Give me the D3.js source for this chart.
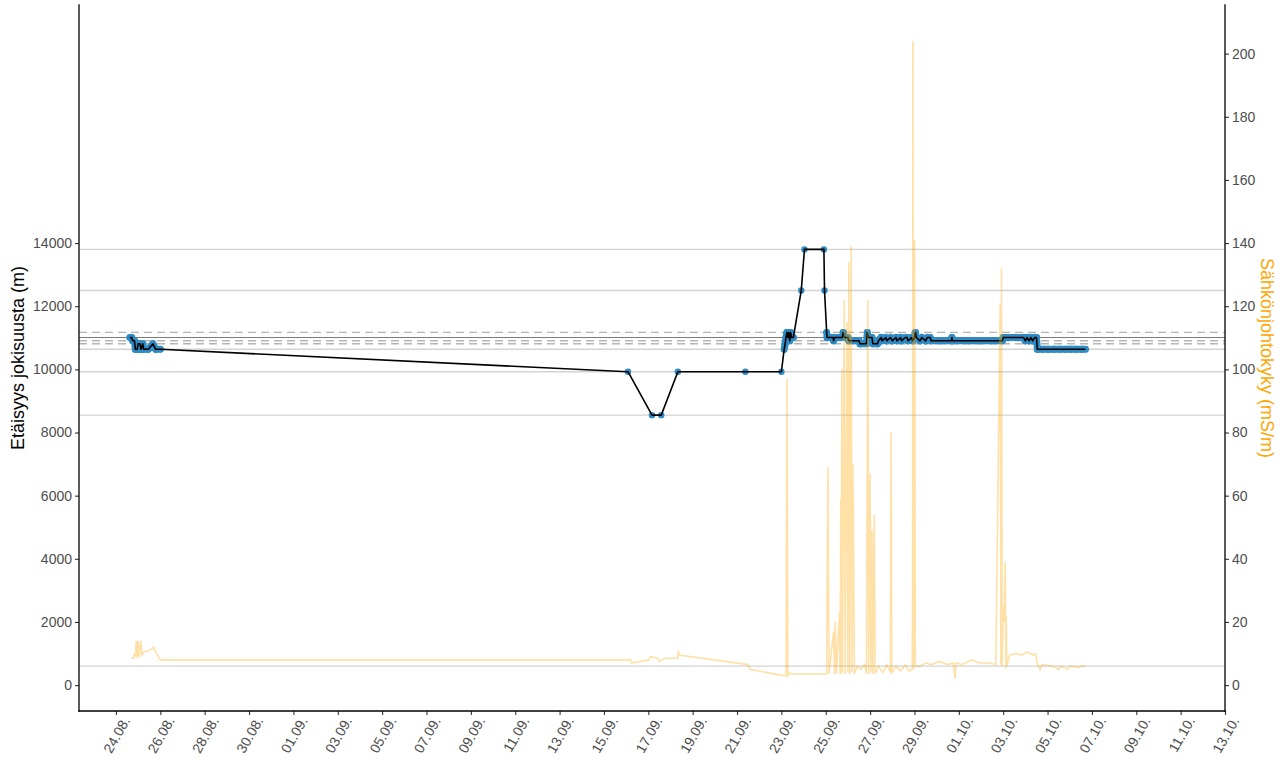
<!DOCTYPE html>
<html>
<head>
<meta charset="utf-8">
<script src="https://cdn.jsdelivr.net/npm/d3@7"></script>
<style>
  body { margin: 0; background: #fff; }
  svg text { font-family: "Liberation Sans", Arial, sans-serif; }
</style>
</head>
<body>
<svg id="chart" width="1287" height="764"></svg>
<script>
// distance from river mouth (m), one reading per position fix
const distance = [
  ["08-24 15:00", 11010], ["08-24 17:00", 11010], ["08-24 18:00", 10905], ["08-24 20:00", 10905],
  ["08-24 21:00", 10635], ["08-24 23:00", 10635], ["08-25 00:00", 10810], ["08-25 02:00", 10810],
  ["08-25 03:00", 10635], ["08-25 05:00", 10810], ["08-25 06:00", 10635], ["08-25 11:00", 10635],
  ["08-25 16:00", 10810], ["08-25 19:00", 10635], ["08-26 00:00", 10635],
  ["09-16 02:00", 9925], ["09-17 04:00", 8550], ["09-17 14:00", 8550], ["09-18 08:00", 9925],
  ["09-21 09:00", 9925], ["09-23 00:00", 9925],
  ["09-23 03:00", 10635], ["09-23 04:00", 10810], ["09-23 05:00", 11010], ["09-23 06:00", 11170],
  ["09-23 07:00", 11010], ["09-23 08:00", 11170], ["09-23 09:00", 10905], ["09-23 10:00", 11170],
  ["09-23 11:00", 11010], ["09-23 13:00", 11010],
  ["09-23 21:30", 12500], ["09-24 01:00", 13800], ["09-24 22:00", 13800], ["09-24 22:40", 12500],
  ["09-25 01:00", 11170], ["09-25 01:30", 11010], ["09-25 08:00", 11010], ["09-25 08:30", 10905],
  ["09-25 09:30", 11010], ["09-25 18:00", 11010], ["09-25 19:00", 11170], ["09-25 20:00", 11010],
  ["09-26 00:00", 11010], ["09-26 01:00", 10905], ["09-26 06:30", 10905], ["09-26 12:00", 10905],
  ["09-26 13:00", 10810], ["09-26 20:00", 10810], ["09-26 21:00", 11170], ["09-26 22:00", 11010],
  ["09-27 02:00", 11010], ["09-27 03:00", 10810], ["09-27 08:00", 10810], ["09-27 09:00", 10905],
  ["09-27 12:00", 11010], ["09-27 13:00", 10905], ["09-27 17:00", 11010], ["09-27 18:00", 10905],
  ["09-27 22:00", 11010], ["09-28 00:00", 10905], ["09-28 04:00", 11010], ["09-28 05:00", 10905],
  ["09-28 09:00", 11010], ["09-28 10:00", 10905], ["09-28 14:00", 11010], ["09-28 16:00", 11010],
  ["09-28 17:00", 10905], ["09-28 21:00", 11010], ["09-28 22:00", 10905], ["09-29 00:00", 11010],
  ["09-29 01:00", 11170], ["09-29 02:00", 11010], ["09-29 06:00", 10905], ["09-29 08:00", 11010],
  ["09-29 12:00", 10905], ["09-29 14:00", 11010], ["09-29 17:00", 11010], ["09-29 18:00", 10905],
  ["09-29 23:00", 10905], ["09-30 04:00", 10905], ["09-30 10:00", 10905], ["09-30 16:00", 10905],
  ["09-30 16:30", 11010], ["09-30 17:00", 10905], ["09-30 23:00", 10905], ["10-01 05:00", 10905],
  ["10-01 11:00", 10905], ["10-01 17:00", 10905], ["10-01 23:00", 10905], ["10-02 05:00", 10905],
  ["10-02 11:00", 10905], ["10-02 17:00", 10905], ["10-02 23:00", 10905],
  ["10-03 00:00", 11010], ["10-03 06:00", 11010], ["10-03 12:00", 11010], ["10-03 17:00", 11010],
  ["10-03 22:00", 11010], ["10-04 00:00", 10905], ["10-04 02:00", 11010], ["10-04 04:00", 10905],
  ["10-04 06:00", 11010], ["10-04 08:00", 10905], ["10-04 10:00", 11010], ["10-04 12:00", 11010],
  ["10-04 13:00", 10635], ["10-04 19:00", 10635], ["10-05 01:00", 10635], ["10-05 07:00", 10635],
  ["10-05 13:00", 10635], ["10-05 19:00", 10635], ["10-06 01:00", 10635], ["10-06 07:00", 10635],
  ["10-06 13:00", 10635], ["10-06 17:00", 10635]
];

// conductivity (mS/m)
const conductivity = [
  ["08-24 16:30", 8.5], ["08-24 19:00", 8.5], ["08-24 20:00", 10], ["08-24 21:00", 9],
  ["08-24 22:00", 14], ["08-24 23:00", 8.5], ["08-25 00:00", 14], ["08-25 01:00", 9],
  ["08-25 03:00", 14], ["08-25 04:00", 9.5], ["08-25 06:00", 10.5], ["08-25 12:00", 11],
  ["08-25 17:00", 12], ["08-25 18:00", 11], ["08-26 00:00", 8],
  ["09-16 05:00", 8], ["09-16 06:00", 7], ["09-17 01:00", 8], ["09-17 02:00", 9],
  ["09-17 10:00", 8.5], ["09-17 12:00", 7.5], ["09-17 18:00", 8.5], ["09-18 08:00", 8.5],
  ["09-18 08:30", 11], ["09-18 09:00", 9.5], ["09-21 12:00", 6.5], ["09-21 14:00", 5],
  ["09-23 02:00", 3], ["09-23 05:00", 3], ["09-23 06:00", 97], ["09-23 07:00", 3],
  ["09-23 09:00", 4], ["09-23 10:00", 3.5], ["09-25 01:00", 3.5], ["09-25 02:20", 69],
  ["09-25 03:30", 3.5], ["09-25 08:30", 17], ["09-25 09:30", 3.5], ["09-25 10:20", 20],
  ["09-25 11:30", 3.5], ["09-25 14:50", 23], ["09-25 15:30", 3.5], ["09-25 16:20", 59],
  ["09-25 17:00", 3.5], ["09-25 17:20", 100], ["09-25 18:00", 4], ["09-25 20:00", 122],
  ["09-25 21:00", 3.5], ["09-25 23:00", 115], ["09-26 00:00", 4], ["09-26 01:00", 134],
  ["09-26 02:00", 3.5], ["09-26 03:30", 139], ["09-26 04:30", 4], ["09-26 05:20", 70],
  ["09-26 06:00", 50], ["09-26 07:00", 3.5], ["09-26 10:00", 6], ["09-26 14:00", 5],
  ["09-26 18:00", 6.5], ["09-26 20:00", 3.5], ["09-26 21:30", 122], ["09-26 22:30", 3.5],
  ["09-27 00:00", 67], ["09-27 01:00", 4], ["09-27 02:00", 49], ["09-27 03:00", 3.5],
  ["09-27 04:30", 54], ["09-27 05:30", 3.5], ["09-27 09:00", 6], ["09-27 14:00", 4],
  ["09-27 18:00", 6.5], ["09-27 22:00", 4], ["09-27 22:40", 80], ["09-27 23:30", 4],
  ["09-28 04:00", 6], ["09-28 09:00", 4.5], ["09-28 14:00", 6.5], ["09-28 18:00", 4.5],
  ["09-28 21:40", 5], ["09-28 22:00", 42], ["09-28 22:20", 204], ["09-28 23:00", 5],
  ["09-29 00:05", 141], ["09-29 01:00", 6], ["09-29 06:00", 6], ["09-29 12:00", 7],
  ["09-29 18:00", 6.5], ["09-30 03:00", 7.5], ["09-30 12:00", 6.5], ["09-30 18:00", 7],
  ["09-30 20:00", 2], ["09-30 21:00", 7], ["10-01 04:00", 6.5], ["10-01 14:00", 8],
  ["10-01 22:00", 7], ["10-02 08:00", 7], ["10-02 16:00", 6.5], ["10-02 20:45", 120.5],
  ["10-02 21:30", 6.5], ["10-02 22:10", 132], ["10-02 23:00", 6], ["10-03 00:00", 25],
  ["10-03 01:00", 20], ["10-03 02:10", 39], ["10-03 03:00", 5], ["10-03 03:15", 22],
  ["10-03 04:00", 6], ["10-03 07:00", 9.5], ["10-03 14:00", 10], ["10-03 20:00", 9.5],
  ["10-04 02:00", 10.5], ["10-04 08:00", 9.5], ["10-04 11:00", 10], ["10-04 13:00", 6.5],
  ["10-04 16:00", 5], ["10-04 18:00", 6.5], ["10-05 06:00", 6], ["10-05 12:00", 5],
  ["10-05 14:00", 6], ["10-05 22:00", 5], ["10-06 00:00", 6], ["10-06 10:00", 5.5],
  ["10-06 12:00", 6], ["10-06 17:00", 6]
];

// station distances drawn as reference lines
const refSolid = [13800, 12500, 10635, 9925, 8550, 600];
const refDark = [11010];
const refDashed = [11170, 10905, 10810];

const leftTicks = [0, 2000, 4000, 6000, 8000, 10000, 12000, 14000];
const rightTicks = [0, 20, 40, 60, 80, 100, 120, 140, 160, 180, 200];
const xTickFirst = "08-24 00:00";
const xTickLast = "10-13 00:00";

const YEAR = 2023;
const parse = (s) =>
  new Date(Date.UTC(YEAR, +s.slice(0, 2) - 1, +s.slice(3, 5), +s.slice(6, 8), +s.slice(9, 11)));

const dist = distance.map(([t, v]) => ({ t: parse(t), v }));
const cond = conductivity.map(([t, v]) => ({ t: parse(t), v }));

const plot = { left: 79, right: 1225, top: 5, bottom: 711 };
const svg = d3.select("#chart");

const x = d3
  .scaleUtc()
  .domain([new Date(Date.UTC(YEAR, 7, 22, 8, 0)), parse(xTickLast)])
  .range([plot.left, plot.right]);
const y = d3.scaleLinear().domain([-820, 21540]).range([plot.bottom, plot.top]);
// secondary axis is distance / 100
const y2 = d3.scaleLinear().domain([-8.2, 215.4]).range([plot.bottom, plot.top]);

// reference lines
const refs = svg.append("g");
refs.selectAll("line.solid")
  .data(refSolid)
  .join("line")
  .attr("x1", plot.left).attr("x2", plot.right)
  .attr("y1", (d) => y(d)).attr("y2", (d) => y(d))
  .attr("stroke", "#d3d3d3").attr("stroke-width", 1.4);
refs.selectAll("line.dark")
  .data(refDark)
  .join("line")
  .attr("x1", plot.left).attr("x2", plot.right)
  .attr("y1", (d) => y(d)).attr("y2", (d) => y(d))
  .attr("stroke", "#7a7a7a").attr("stroke-width", 1.1);
refs.selectAll("line.dash")
  .data(refDashed)
  .join("line")
  .attr("x1", plot.left).attr("x2", plot.right)
  .attr("y1", (d) => y(d)).attr("y2", (d) => y(d))
  .attr("stroke", "#b5b5b5").attr("stroke-width", 1.4)
  .attr("stroke-dasharray", "8,5");

// blue halo where fixes are dense (short gap, small change)
const HOUR = 3600 * 1000;
const segs = [];
for (let i = 1; i < dist.length; i++) {
  const a = dist[i - 1], b = dist[i];
  if (b.t - a.t <= 9 * HOUR && Math.abs(b.v - a.v) <= 600) segs.push([a, b]);
}
const lineD = d3.line().x((d) => x(d.t)).y((d) => y(d.v));
svg.append("g")
  .selectAll("path")
  .data(segs)
  .join("path")
  .attr("d", lineD)
  .attr("fill", "none")
  .attr("stroke", "#2e8bc4")
  .attr("stroke-width", 7)
  .attr("stroke-linecap", "round")
  .attr("stroke-linejoin", "round");

svg.append("g")
  .selectAll("circle")
  .data(dist)
  .join("circle")
  .attr("cx", (d) => x(d.t))
  .attr("cy", (d) => y(d.v))
  .attr("r", 3.2)
  .attr("fill", "#2e8bc4");

svg.append("path")
  .datum(dist)
  .attr("d", lineD)
  .attr("fill", "none")
  .attr("stroke", "#000")
  .attr("stroke-width", 1.6)
  .attr("stroke-linejoin", "round");

// conductivity
svg.append("path")
  .datum(cond)
  .attr("d", d3.line().x((d) => x(d.t)).y((d) => y2(d.v)))
  .attr("fill", "none")
  .attr("stroke", "#ffa500")
  .attr("stroke-opacity", 0.35)
  .attr("stroke-width", 1.6);

// axes
const tickDates = d3.utcDay.range(parse(xTickFirst), new Date(+parse(xTickLast) + 1), 2);
const fmt = d3.utcFormat("%d.%m.");

const xAxis = svg.append("g")
  .attr("transform", `translate(0,${plot.bottom})`)
  .call(d3.axisBottom(x).tickValues(tickDates).tickSize(4).tickFormat(fmt));
xAxis.selectAll("text")
  .attr("text-anchor", "end")
  .attr("transform", "translate(10,7) rotate(-60)")
  .attr("dy", "0.35em")
  .attr("dx", 0)
  .attr("y", 0);

const yAxis = svg.append("g")
  .attr("transform", `translate(${plot.left},0)`)
  .call(d3.axisLeft(y).tickValues(leftTicks).tickSize(4).tickFormat(d3.format("d")));

const y2Axis = svg.append("g")
  .attr("transform", `translate(${plot.right},0)`)
  .call(d3.axisRight(y2).tickValues(rightTicks).tickSize(4).tickFormat(d3.format("d")));

[xAxis, yAxis, y2Axis].forEach((g) => {
  g.select(".domain").remove();
  g.selectAll(".tick line").attr("stroke", "#333").attr("stroke-width", 1.1);
  g.selectAll(".tick text").attr("fill", "#4d4d4d").style("font-size", "14px");
});
yAxis.selectAll(".tick text").attr("x", -7);
y2Axis.selectAll(".tick text").attr("x", 7);

// axis lines
const axisLines = [
  [plot.left, plot.top, plot.left, plot.bottom],
  [plot.right, plot.top, plot.right, plot.bottom],
  [plot.left, plot.bottom, plot.right, plot.bottom],
];
svg.append("g")
  .selectAll("line")
  .data(axisLines)
  .join("line")
  .attr("x1", (d) => d[0]).attr("y1", (d) => d[1])
  .attr("x2", (d) => d[2]).attr("y2", (d) => d[3])
  .attr("stroke", "#000").attr("stroke-width", 1.3)
  .attr("stroke-linecap", "square");

// titles
const midY = (plot.top + plot.bottom) / 2;
svg.append("text")
  .attr("transform", `translate(24,${midY}) rotate(-90)`)
  .attr("text-anchor", "middle")
  .style("font-size", "18px")
  .attr("fill", "#000")
  .text("Etäisyys jokisuusta (m)");
svg.append("text")
  .attr("transform", `translate(1261,${midY}) rotate(90)`)
  .attr("text-anchor", "middle")
  .style("font-size", "18px")
  .attr("fill", "#ffa500")
  .text("Sähkönjohtokyky (mS/m)");
</script>
</body>
</html>
